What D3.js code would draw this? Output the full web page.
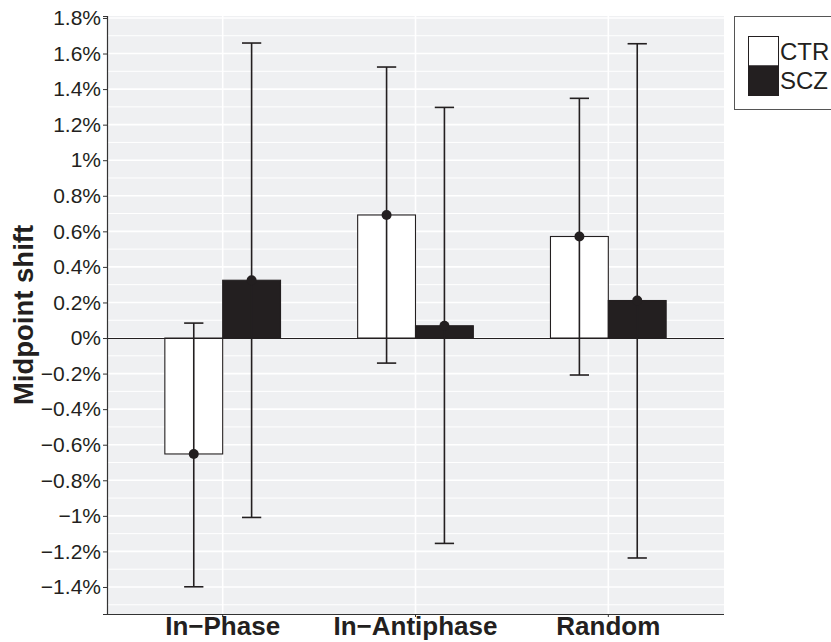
<!DOCTYPE html>
<html><head><meta charset="utf-8">
<script src="https://cdn.jsdelivr.net/npm/d3@7"></script>
<style>
body{margin:0;background:#fff;}
text{font-family:"Liberation Sans",Arial,Helvetica,sans-serif;}
</style></head>
<body>
<svg id="chart" width="831" height="642"></svg>
<script>
const categories = ["In\u2212Phase", "In\u2212Antiphase", "Random"];
const groups = ["CTR", "SCZ"];
const ctrMean = [-0.652, 0.692, 0.571];
const ctrLow  = [-1.399, -0.141, -0.208];
const ctrHigh = [0.084, 1.524, 1.348];
const sczMean = [0.325, 0.069, 0.211];
const sczLow  = [-1.009, -1.155, -1.237];
const sczHigh = [1.659, 1.297, 1.655];
const yTicks = [-1.4,-1.2,-1.0,-0.8,-0.6,-0.4,-0.2,0,0.2,0.4,0.6,0.8,1.0,1.2,1.4,1.6,1.8];

const dark = "#231F20";
const panelBg = "#EFF0F2";
const svg = d3.select("#chart");
const L = 107, R = 724, T = 16, B = 614;

const data = [];
categories.forEach((c,i)=>{
  data.push({cat:c, grp:"CTR", mean:ctrMean[i], lo:ctrLow[i], hi:ctrHigh[i]});
  data.push({cat:c, grp:"SCZ", mean:sczMean[i], lo:sczLow[i], hi:sczHigh[i]});
});

const y = d3.scaleLinear().domain([-1.552, 1.811]).range([B, T]);
const x = d3.scaleBand().domain(categories).range([L, R]).paddingInner(0).paddingOuter(0.1);
const unit = x.bandwidth();
const xs = d3.scaleBand().domain(groups).range([-0.3*unit, 0.3*unit]);
const fill = d3.scaleOrdinal().domain(groups).range(["#FFFFFF", dark]);

// panel
svg.append("rect").attr("x",L).attr("y",T).attr("width",R-L).attr("height",B-T).attr("fill",panelBg);
// minor grid
const minor = d3.range(-1.5, 1.81, 0.1).map(v=>+v.toFixed(1)).filter(v=>!yTicks.some(t=>Math.abs(t-v)<1e-6));
svg.append("g").selectAll("line").data(minor).join("line")
  .attr("x1",L).attr("x2",R).attr("y1",d=>y(d)).attr("y2",d=>y(d))
  .attr("stroke","#fff").attr("stroke-width",1);
svg.append("g").selectAll("line").data(yTicks).join("line")
  .attr("x1",L).attr("x2",R).attr("y1",d=>y(d)).attr("y2",d=>y(d))
  .attr("stroke","#fff").attr("stroke-width",1.6);
svg.append("g").selectAll("line").data(categories).join("line")
  .attr("x1",d=>x(d)+unit/2).attr("x2",d=>x(d)+unit/2).attr("y1",T).attr("y2",B)
  .attr("stroke","#fff").attr("stroke-width",1.6);

// bars
const bars = svg.append("g");
bars.selectAll("rect").data(data).join("rect")
  .attr("x",d=>x(d.cat)+unit/2+xs(d.grp))
  .attr("width",xs.bandwidth())
  .attr("y",d=>y(Math.max(0,d.mean)))
  .attr("height",d=>Math.abs(y(d.mean)-y(0)))
  .attr("fill",d=>fill(d.grp))
  .attr("stroke",dark).attr("stroke-width",1.1);

// zero line
const y0 = Math.round(y(0)) + 0.5;
svg.append("line").attr("x1",L).attr("x2",R).attr("y1",y0).attr("y2",y0)
  .attr("stroke",dark).attr("stroke-width",1.2);

// error bars
const eb = svg.append("g").attr("stroke",dark).attr("stroke-width",1.6);
const cx = d=>x(d.cat)+unit/2+xs(d.grp)+xs.bandwidth()/2;
const cap = 0.05*unit;
eb.selectAll("line.v").data(data).join("line").attr("class","v")
  .attr("x1",cx).attr("x2",cx).attr("y1",d=>y(d.lo)).attr("y2",d=>y(d.hi));
eb.selectAll("line.t").data(data).join("line").attr("class","t")
  .attr("x1",d=>cx(d)-cap).attr("x2",d=>cx(d)+cap).attr("y1",d=>y(d.hi)).attr("y2",d=>y(d.hi));
eb.selectAll("line.b").data(data).join("line").attr("class","b")
  .attr("x1",d=>cx(d)-cap).attr("x2",d=>cx(d)+cap).attr("y1",d=>y(d.lo)).attr("y2",d=>y(d.lo));
svg.append("g").selectAll("circle").data(data).join("circle")
  .attr("cx",cx).attr("cy",d=>y(d.mean)).attr("r",5).attr("fill",dark);

// axes
const fmt = v => (v<0?"\u2212":"") + d3.format("~g")(Math.abs(+v.toFixed(1))) + "%";
const yAxis = d3.axisLeft(y).tickValues(yTicks).tickSize(4).tickPadding(2).tickFormat(fmt);
const gy = svg.append("g").attr("transform",`translate(${L},0)`).call(yAxis);
gy.select(".domain").attr("stroke","#333").attr("stroke-width",1.2);
gy.selectAll(".tick line").attr("stroke","#333");
gy.selectAll("text").attr("font-size",21).attr("fill",dark).attr("font-family","Liberation Sans, Arial, sans-serif");

const xAxis = d3.axisBottom(x).tickSize(3).tickPadding(4);
const gx = svg.append("g").attr("transform",`translate(0,${B})`).call(xAxis);
gx.select(".domain").attr("stroke","#333").attr("stroke-width",1.2).attr("d",`M${L},0.5H${R}`);
gx.selectAll(".tick line").attr("stroke","#333");
gx.selectAll("text").attr("font-size",26).attr("font-weight","bold").attr("fill",dark)
  .attr("font-family","Liberation Sans, Arial, sans-serif").attr("dy",null).attr("y",21);

// y title
svg.append("text").attr("transform",`translate(33,${(T+B)/2}) rotate(-90)`)
  .attr("text-anchor","middle").attr("font-size",27.5).attr("font-weight","bold").attr("fill",dark)
  .text("Midpoint shift");

// legend
const lg = svg.append("g");
lg.append("rect").attr("x",734.5).attr("y",16.5).attr("width",120).attr("height",93)
  .attr("fill","#fff").attr("stroke","#555").attr("stroke-width",1);
groups.forEach((g,i)=>{
  lg.append("rect").attr("x",748.5).attr("y",36.5+i*29.5).attr("width",30).attr("height",29.5)
    .attr("fill",fill(g)).attr("stroke",dark).attr("stroke-width",1);
  lg.append("text").attr("x",780).attr("y",36.5+i*29.5+14.75).attr("dy","0.36em")
    .attr("font-size",24).attr("fill",dark).text(g);
});
</script>
</body></html>
